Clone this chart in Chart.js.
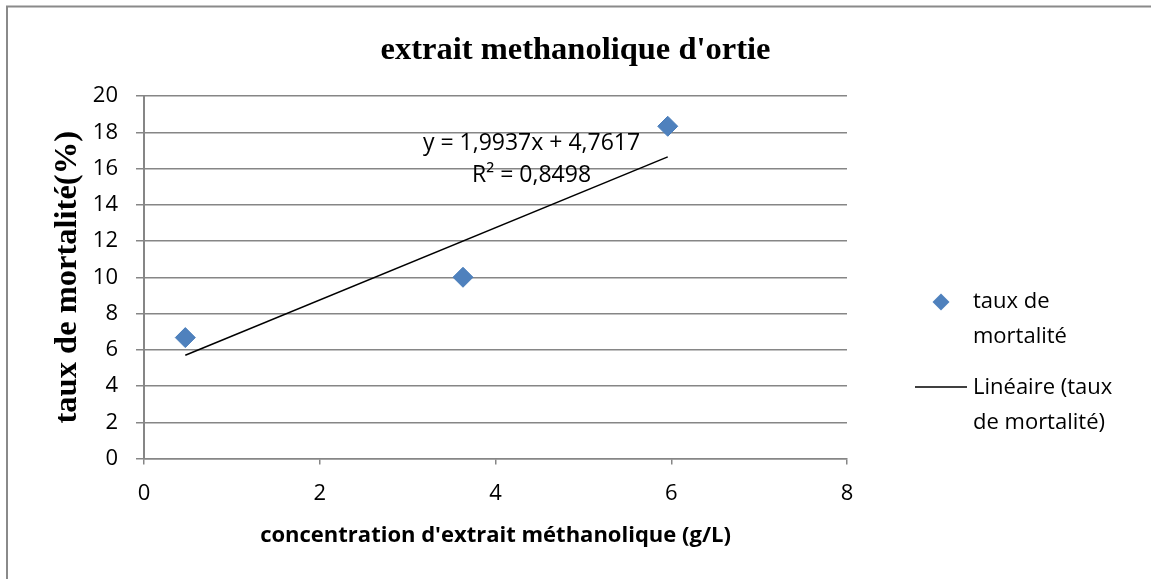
<!DOCTYPE html>
<html>
<head>
<meta charset="utf-8">
<title>extrait methanolique d'ortie</title>
<script src="https://cdn.jsdelivr.net/npm/chart.js@4.4.1/dist/chart.umd.min.js"></script>
<style>
  html, body { margin: 0; padding: 0; background: #ffffff; }
  #wrap { position: relative; width: 1151px; height: 579px; }
  canvas { display: block; }
</style>
</head>
<body>
<div id="wrap"><canvas id="chart" width="1151" height="579"></canvas></div>
<script>
// Measured mortality rates for each methanolic nettle extract concentration
const concentrations = [0.47, 3.63, 5.96];      // g/L
const mortality = [6.67, 10.0, 18.33];          // %
const xTickValues = [0, 2, 4, 6, 8];
const yTickValues = [0, 2, 4, 6, 8, 10, 12, 14, 16, 18, 20];

// Linear trendline as reported by the regression
const trendSlope = 1.9937;
const trendIntercept = 4.7617;
const trendR2 = 0.8498;

const chartTitle = "extrait methanolique d'ortie";
const xTitle = "concentration d'extrait méthanolique (g/L)";
const yTitle = "taux de mortalité(%)";
const seriesName = "taux de mortalité";
const trendName = "Linéaire (taux de mortalité)";
const seriesLegendLines = ["taux de", "mortalité"];
const trendLegendLines = ["Linéaire (taux", "de mortalité)"];

const SANS = '"Open Sans", "Liberation Sans", sans-serif';
const SERIF = '"Liberation Serif", "Times New Roman", serif';
const GRID = '#868686';
const MARKER = '#4F81BD';

const fmt = v => String(v).replace('.', ',');

const scatterPoints = concentrations.map((x, i) => ({ x, y: mortality[i] }));
const xMin = Math.min(...concentrations);
const xMax = Math.max(...concentrations);
const trendPoints = [xMin, xMax].map(x => ({ x, y: trendSlope * x + trendIntercept }));

Chart.defaults.font.family = SANS;
Chart.defaults.color = '#000';

// White page with the thin grey frame along the top and left edges
const framePlugin = {
  id: 'frame',
  beforeDraw(chart) {
    const ctx = chart.ctx;
    ctx.save();
    ctx.fillStyle = '#ffffff';
    ctx.fillRect(0, 0, chart.width, chart.height);
    ctx.strokeStyle = '#8a8a8a';
    ctx.lineWidth = 2;
    ctx.beginPath();
    ctx.moveTo(7, chart.height);
    ctx.lineTo(7, 6.5);
    ctx.lineTo(chart.width, 6.5);
    ctx.stroke();
    ctx.restore();
  }
};

// Regression equation and R² written near the trendline
const equationPlugin = {
  id: 'equation',
  afterDatasetsDraw(chart) {
    const { ctx, scales } = chart;
    const cx = scales.x.getPixelForValue(4.41);
    const cy = scales.y.getPixelForValue(17.4);
    ctx.save();
    ctx.fillStyle = '#000';
    ctx.font = '23px ' + SANS;
    ctx.textAlign = 'center';
    ctx.textBaseline = 'middle';
    ctx.fillText('y = ' + fmt(trendSlope) + 'x + ' + fmt(trendIntercept), cx, cy);
    ctx.fillText('R² = ' + fmt(trendR2), cx, cy + 32);
    ctx.restore();
  }
};

// Two-entry legend to the right of the plot, labels wrapped on two lines
const sideLegendPlugin = {
  id: 'sideLegend',
  afterDraw(chart) {
    const { ctx, chartArea } = chart;
    const left = chartArea.right;
    ctx.save();
    ctx.font = '22px ' + SANS;
    ctx.textAlign = 'left';
    ctx.textBaseline = 'middle';

    // scatter entry
    const mx = left + 94, my = 302, r = 8.5;
    ctx.fillStyle = MARKER;
    ctx.beginPath();
    ctx.moveTo(mx, my - r);
    ctx.lineTo(mx + r, my);
    ctx.lineTo(mx, my + r);
    ctx.lineTo(mx - r, my);
    ctx.closePath();
    ctx.fill();
    ctx.fillStyle = '#000';
    seriesLegendLines.forEach((t, i) => ctx.fillText(t, left + 126, 302 + i * 35));

    // trendline entry
    ctx.strokeStyle = '#000';
    ctx.lineWidth = 1.5;
    ctx.beginPath();
    ctx.moveTo(left + 68, 387);
    ctx.lineTo(left + 120, 387);
    ctx.stroke();
    trendLegendLines.forEach((t, i) => ctx.fillText(t, left + 126, 388 + i * 35));
    ctx.restore();
  }
};

new Chart(document.getElementById('chart'), {
  type: 'scatter',
  data: {
    datasets: [
      {
        label: seriesName,
        data: scatterPoints,
        pointStyle: 'rectRot',
        pointRadius: 10,
        pointHoverRadius: 10,
        backgroundColor: MARKER,
        borderColor: '#4A7EBB',
        borderWidth: 1,
        showLine: false,
        order: 1
      },
      {
        label: trendName,
        data: trendPoints,
        showLine: true,
        borderColor: '#000000',
        borderWidth: 1.5,
        pointRadius: 0,
        pointHoverRadius: 0,
        fill: false,
        order: 0
      }
    ]
  },
  options: {
    responsive: false,
    animation: false,
    devicePixelRatio: 1,
    layout: { padding: 0 },
    plugins: {
      legend: { display: false },
      tooltip: { enabled: false },
      title: {
        display: true,
        text: chartTitle,
        color: '#000',
        font: { family: SERIF, size: 32.5, weight: 'bold', lineHeight: 1.2 },
        padding: { top: 31, bottom: 26 }
      }
    },
    scales: {
      x: {
        type: 'linear',
        position: 'bottom',
        min: 0,
        max: 8,
        afterBuildTicks: s => { s.ticks = xTickValues.map(v => ({ value: v })); },
        afterFit: s => { s.height = 120.5; },
        ticks: { font: { size: 22 }, color: '#000', padding: 16 },
        grid: { drawOnChartArea: false, drawTicks: true, tickLength: 6, color: GRID, lineWidth: 1.5 },
        border: { display: true, color: GRID, width: 1.5 },
        title: {
          display: true,
          text: xTitle,
          color: '#000',
          font: { family: SANS, size: 22, weight: 'bold', lineHeight: 1.2 },
          padding: { top: 0, bottom: 30.5 }
        }
      },
      y: {
        type: 'linear',
        position: 'left',
        min: 0,
        max: 20,
        afterBuildTicks: s => { s.ticks = yTickValues.map(v => ({ value: v })); },
        afterFit: s => { s.width = 144; },
        ticks: { font: { size: 22 }, color: '#000', padding: 18 },
        grid: { drawOnChartArea: true, drawTicks: true, tickLength: 8, color: GRID, lineWidth: 1.5 },
        border: { display: true, color: GRID, width: 2 },
        title: {
          display: true,
          text: yTitle,
          color: '#000',
          font: { family: SERIF, size: 32.5, weight: 'bold', lineHeight: 1.2 },
          padding: { top: 48.5, bottom: 0 }
        }
      },
      legendSpace: {
        type: 'linear',
        position: 'right',
        display: true,
        afterFit: s => { s.width = 304; },
        ticks: { display: false },
        grid: { display: false, drawTicks: false },
        border: { display: false }
      }
    }
  },
  plugins: [framePlugin, equationPlugin, sideLegendPlugin]
});
</script>
</body>
</html>
